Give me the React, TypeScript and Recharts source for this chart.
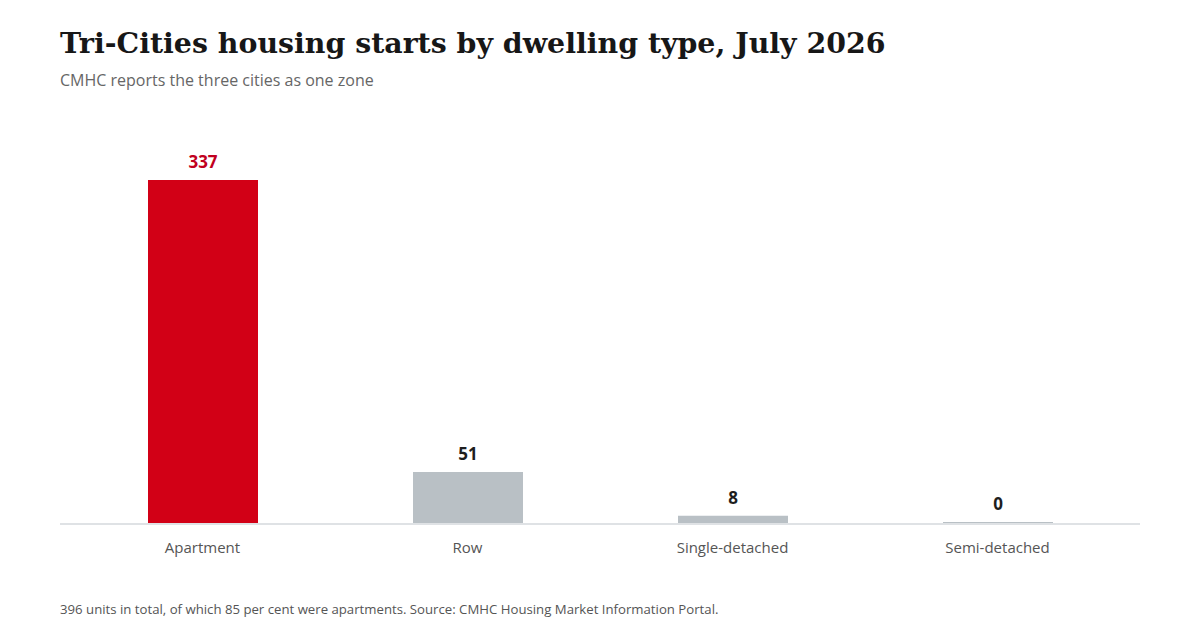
import React from "react";
import { BarChart, Bar, XAxis, YAxis, Cell, LabelList } from "recharts";

const categories = ["Apartment", "Row", "Single-detached", "Semi-detached"];
const starts = [337, 51, 8, 0];
const highlight = ["Apartment"];

const data = categories.map((name, i) => ({ name, value: starts[i] }));

const RED = "#d20016";
const GREY = "#b9c0c5";

const renderLabel = (props: any) => {
  const { x, y, width, value, index } = props;
  const isHi = highlight.includes(categories[index]);
  return (
    <text
      x={x + width / 2}
      y={y - 12}
      textAnchor="middle"
      fontFamily="'Open Sans', sans-serif"
      fontWeight={700}
      fontSize={17}
      fill={isHi ? "#c10020" : "#1e1e1e"}
    >
      {value}
    </text>
  );
};

export default function App() {
  return (
    <div
      style={{
        position: "fixed",
        left: 0,
        top: 0,
        width: 1200,
        height: 640,
        background: "#fff",
        overflow: "hidden",
      }}
    >
      <div
        style={{
          position: "absolute",
          left: 60,
          top: 26,
          fontFamily: "Georgia, 'DejaVu Serif', serif",
          fontWeight: 700,
          fontSize: 28.4,
          color: "#171717",
          whiteSpace: "nowrap",
        }}
      >
        Tri-Cities housing starts by dwelling type, July 2026
      </div>
      <div
        style={{
          position: "absolute",
          left: 60,
          top: 69,
          fontFamily: "'Open Sans', sans-serif",
          fontSize: 16,
          color: "#666",
          whiteSpace: "nowrap",
        }}
      >
        CMHC reports the three cities as one zone
      </div>
      <div style={{ position: "absolute", left: 0, top: 0 }}>
        <BarChart
          width={1200}
          height={580}
          data={data}
          margin={{ top: 124, right: 60, left: 60, bottom: 26 }}
        >
          <YAxis hide domain={[0, 392]} />
          <XAxis
            dataKey="name"
            tickLine={false}
            axisLine={{ stroke: "#dfe2e5", strokeWidth: 2 }}
            tick={{ fill: "#555", fontSize: 15, fontFamily: "'Open Sans', sans-serif" }}
            tickMargin={12}
            padding={{ left: 10, right: 10 }}
            interval={0}
          />
          <Bar dataKey="value" barSize={110} minPointSize={2} isAnimationActive={false}>
            {data.map((d) => (
              <Cell key={d.name} fill={highlight.includes(d.name) ? RED : GREY} />
            ))}
            <LabelList dataKey="value" content={renderLabel} />
          </Bar>
        </BarChart>
      </div>
      <div
        style={{
          position: "absolute",
          left: 60,
          top: 600,
          fontFamily: "'Open Sans', sans-serif",
          fontSize: 13.2,
          color: "#555",
          whiteSpace: "nowrap",
        }}
      >
        396 units in total, of which 85 per cent were apartments. Source: CMHC Housing Market Information Portal.
      </div>
    </div>
  );
}
